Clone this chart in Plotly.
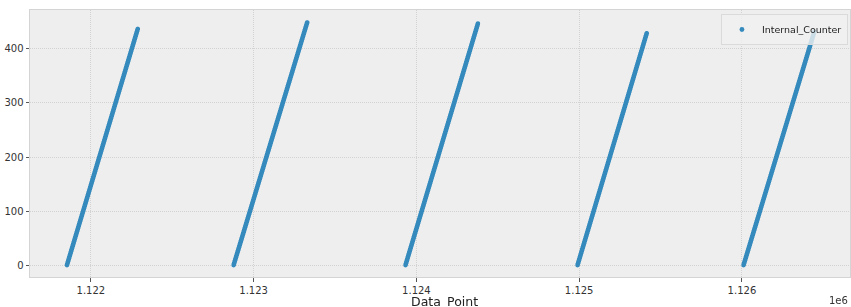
import numpy as np
import plotly.graph_objects as go

# Each segment: Internal_Counter runs from 0 up to its max while Data_Point advances
seg_start_x = [1121853, 1122877, 1123933, 1124990, 1126010]
seg_end_x = [1122288, 1123329, 1124378, 1125415, 1126445]
seg_max_counter = [437, 449, 447, 429, 432]

x_ticks = [1122000, 1123000, 1124000, 1125000, 1126000]
x_tick_labels = ["1.122", "1.123", "1.124", "1.125", "1.126"]
y_ticks = [0, 100, 200, 300, 400]

xs, ys = [], []
for x0, x1, m in zip(seg_start_x, seg_end_x, seg_max_counter):
    c = np.arange(0, m + 1)
    xs.append(np.linspace(x0, x1, len(c)))
    ys.append(c)
xs = np.concatenate(xs)
ys = np.concatenate(ys)

fig = go.Figure()
fig.add_trace(go.Scattergl(
    x=xs, y=ys, mode="markers", name="Internal_Counter",
    marker=dict(color="#348ABD", size=4.8, line=dict(width=0)),
    showlegend=True,
))

axis_common = dict(
    showgrid=True, gridcolor="#d2d2d2", griddash="1px,1px", gridwidth=1,
    zeroline=False, showline=True, linecolor="#d4d4d4", linewidth=1, mirror=True,
    ticks="outside", ticklen=3.5, tickcolor="#555555", tickwidth=1,
    tickfont=dict(family="DejaVu Sans", size=10, color="#333333"),
    automargin=False,
)

fig.update_layout(
    width=851, height=307,
    margin=dict(l=30, r=1, t=10, b=30),
    paper_bgcolor="white", plot_bgcolor="#eeeeee",
    font=dict(family="DejaVu Sans", color="#333333"),
    xaxis=dict(range=[1121626, 1126664], tickvals=x_ticks, ticktext=x_tick_labels,
               **axis_common),
    yaxis=dict(range=[-22, 472], tickvals=y_ticks, **axis_common),
    legend=dict(x=0.9975, y=0.985, xanchor="right", yanchor="top",
                bgcolor="rgba(240,240,240,0.8)", bordercolor="#dadada", borderwidth=1,
                font=dict(size=9.5, color="#222222"), itemwidth=30,
                tracegroupgap=0),
    annotations=[
        dict(text="1e6", xref="paper", yref="paper", x=1.0, y=-0.06,
             xanchor="right", yanchor="top", showarrow=False,
             font=dict(size=10, color="#333333")),
        dict(text="Data_Point", xref="paper", yref="paper", x=0.505, y=-0.055,
             xanchor="center", yanchor="top", showarrow=False,
             font=dict(size=12.5, color="#222222")),
    ],
)

fig.write_html("out.html", config={"displayModeBar": False},
               post_script="document.body.style.margin='0';document.body.style.overflow='hidden';")
